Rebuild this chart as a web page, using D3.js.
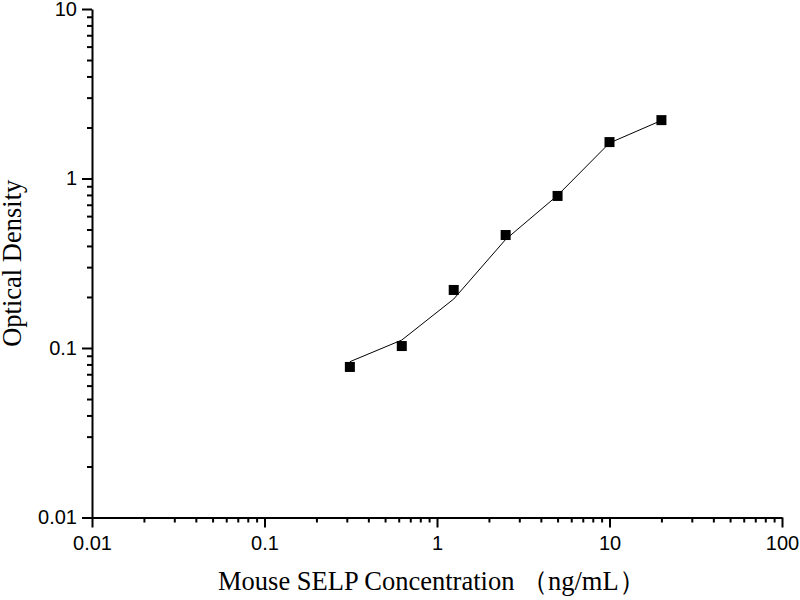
<!DOCTYPE html>
<html>
<head>
<meta charset="utf-8">
<script src="https://cdn.jsdelivr.net/npm/d3@7"></script>
<style>
  body { margin: 0; background: #fff; }
  svg { display: block; }
</style>
</head>
<body>
<svg width="800" height="600"></svg>
<script>
// standard concentrations (ng/mL) and measured OD
var conc = [0.3125, 0.625, 1.25, 2.5, 5, 10, 20];
var od = [0.0773, 0.1027, 0.22, 0.464, 0.789, 1.64, 2.21];
// fitted curve values at the same concentrations
var fitOd = [0.083, 0.1114, 0.1945, 0.437, 0.795, 1.62, 2.2];

var xTicks = [0.01, 0.1, 1, 10, 100];
var yTicks = [0.01, 0.1, 1, 10];

var svg = d3.select("svg"),
  plotLeft = 92,
  plotRight = 782,
  plotTop = 9,
  plotBottom = 517.5;

var x = d3.scaleLog().domain([0.01, 100]).range([plotLeft, plotRight]);
var y = d3.scaleLog().domain([0.01, 10]).range([plotBottom, plotTop]);

// minor ticks: 2..9 inside every decade
function minors(domain) {
  var out = [];
  for (var e = Math.log10(domain[0]); e < Math.log10(domain[1]); e++) {
    for (var k = 2; k < 10; k++) out.push(k * Math.pow(10, e));
  }
  return out;
}

var fmt = function (d) { return String(+d.toPrecision(1)); };

var gx = svg.append("g").attr("transform", "translate(0," + plotBottom + ")");
gx.call(d3.axisBottom(x).tickValues(minors(x.domain())).tickSize(5).tickFormat(""));
gx.select(".domain").remove();
var gxMaj = svg.append("g").attr("transform", "translate(0," + plotBottom + ")");
gxMaj.call(d3.axisBottom(x).tickValues(xTicks).tickSize(10).tickPadding(8).tickFormat(fmt).tickSizeOuter(0));

var gy = svg.append("g").attr("transform", "translate(" + plotLeft + ",0)");
gy.call(d3.axisLeft(y).tickValues(minors(y.domain())).tickSize(5).tickFormat(""));
gy.select(".domain").remove();
var gyMaj = svg.append("g").attr("transform", "translate(" + plotLeft + ",0)");
gyMaj.call(d3.axisLeft(y).tickValues(yTicks).tickSize(10).tickPadding(5).tickFormat(fmt).tickSizeOuter(0));

svg.selectAll(".domain, .tick line").attr("stroke", "#000").attr("stroke-width", 2);
svg.selectAll(".tick text")
  .attr("font-family", "Liberation Sans, Arial, sans-serif")
  .attr("font-size", 20)
  .attr("fill", "#000");

// fitted curve
var line = d3.line()
  .x(function (d, i) { return x(conc[i]); })
  .y(function (d) { return y(d); });

svg.append("path")
  .datum(fitOd)
  .attr("d", line)
  .attr("fill", "none")
  .attr("stroke", "#000")
  .attr("stroke-width", 1);

// data points
svg.selectAll("rect.pt")
  .data(od)
  .enter()
  .append("rect")
  .attr("class", "pt")
  .attr("x", function (d, i) { return x(conc[i]) - 5; })
  .attr("y", function (d) { return y(d) - 5; })
  .attr("width", 10)
  .attr("height", 10)
  .attr("fill", "#000");

// axis titles
svg.append("text")
  .attr("x", 218)
  .attr("y", 590)
  .attr("font-family", "Liberation Serif, Times New Roman, serif")
  .attr("font-size", 26.5)
  .text("Mouse SELP Concentration （ng/mL）");

svg.append("text")
  .attr("transform", "translate(21," + (plotBottom + plotTop) / 2 + ") rotate(-90)")
  .attr("text-anchor", "middle")
  .attr("font-family", "Liberation Serif, Times New Roman, serif")
  .attr("font-size", 26.5)
  .text("Optical Density");
</script>
</body>
</html>
